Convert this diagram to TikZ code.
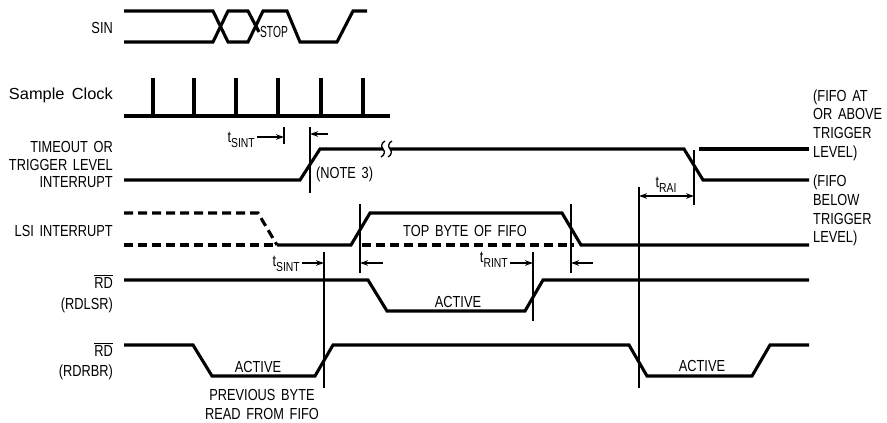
\documentclass[tikz,border=0pt]{standalone}
\usepackage{fontspec}
\setmainfont{Liberation Sans}[FakeStretch=0.8,WordSpace=1.6]
\usepackage{tikz}
\usetikzlibrary{arrows.meta}

\newcommand{\sigfont}{\fontsize{16}{19}\selectfont}
\newcommand{\subfont}{\fontsize{13}{15}\selectfont}
\newcommand{\tsub}[1]{t\raisebox{-5.5pt}{\subfont #1}}
\newcommand{\rdbar}{$\overline{\mbox{RD}}$}

\tikzstyle{wave} = [line width=3.1pt, line join=miter, line cap=butt]
\tikzstyle{dashwave} = [wave, dash pattern=on 9pt off 5pt]
\tikzstyle{guide} = [line width=1.3pt]
\tikzstyle{dim} = [draw, line width=1.3pt, ->, >={Stealth[length=8pt,width=5.5pt]}]
\tikzstyle{dimboth} = [dim, <->]
\tikzstyle{lbl} = [inner sep=0pt, anchor=base east, font=\sigfont]
\tikzstyle{rlbl} = [inner sep=0pt, anchor=base west, font=\sigfont]
\tikzstyle{txt} = [inner sep=0pt, anchor=base, font=\sigfont]

\begin{document}
\begin{tikzpicture}[x=1pt, y=-1pt]
\useasboundingbox (0,0) rectangle (887,423);

% signal names
\node[lbl] (sin) at (113,34) {SIN};
\node[lbl] (clk) at (113,99) {\scalebox{1.28}[1]{Sample Clock}};
\node[lbl] (tmo1) at (113,152) {TIMEOUT OR};
\node[lbl] (tmo2) at (113,170) {TRIGGER LEVEL};
\node[lbl] (tmo3) at (113,187) {INTERRUPT};
\node[lbl] (lsi) at (113,236) {LSI INTERRUPT};
\node[lbl] (rdlsr1) at (113,288) {\rdbar};
\node[lbl] (rdlsr2) at (113,309) {(RDLSR)};
\node[lbl] (rdrbr1) at (113,356) {\rdbar};
\node[lbl] (rdrbr2) at (113,376) {(RDRBR)};

% SIN
\draw[wave] (124,11) -- (213,11) -- (228,42) -- (248,42) -- (263,11) -- (287,11) -- (300,42) -- (337,42) -- (353,11) -- (367,11);
\draw[wave] (124,42) -- (213,42) -- (228,11) -- (248,11) -- (259,32);
\node[txt] (stop) at (274,37) {\scalebox{0.8}[1]{STOP}};

% sample clock
\draw[wave] (124,116) -- (390,116);
\draw[wave] (153,116) -- (153,78) (194,116) -- (194,78) (236,116) -- (236,78)
  (278,116) -- (278,78) (321,116) -- (321,78) (363,116) -- (363,78);

% timeout / trigger level interrupt
\draw[wave] (124,180) -- (300,180) -- (320,149) -- (383,149);
\draw[guide] (385,141) .. controls (381,143) and (381,147) .. (383,149) .. controls (385,151) and (385,155) .. (381,157);
\draw[guide] (392,141) .. controls (388,143) and (388,147) .. (390,149) .. controls (392,151) and (392,155) .. (388,157);
\draw[wave] (390,149) -- (684,149) -- (703,180) -- (809,180);
\draw[wave] (699,149) -- (809,149);
\node[rlbl] (note) at (316,178) {(NOTE 3)};

\node[rlbl] (above1) at (813,101) {(FIFO AT};
\node[rlbl] (above2) at (813,119) {OR ABOVE};
\node[rlbl] (above3) at (813,138) {TRIGGER};
\node[rlbl] (above4) at (813,157) {LEVEL)};
\node[rlbl] (below1) at (813,186) {(FIFO};
\node[rlbl] (below2) at (813,205) {BELOW};
\node[rlbl] (below3) at (813,224) {TRIGGER};
\node[rlbl] (below4) at (813,242) {LEVEL)};

% LSI interrupt
\draw[dashwave] (124,213) -- (258,213) -- (277,245);
\draw[dashwave] (124,245) -- (277,245);
\draw[wave] (277,245) -- (351,245) -- (370,213) -- (562,213) -- (581,245) -- (809,245);
\draw[dashwave] (362,245) -- (574,245);
\node[txt] (topbyte) at (465,236) {TOP BYTE OF FIFO};

% RD (RDLSR)
\draw[wave] (124,280) -- (368,280) -- (387,311) -- (525,311) -- (543,280) -- (809,280);
\node[txt] (act1) at (458,307) {ACTIVE};

% RD (RDRBR)
\draw[wave] (124,345) -- (193,345) -- (212,376) -- (315,376) -- (333,345) -- (629,345) -- (647,376) -- (752,376) -- (770,345) -- (809,345);
\node[txt] (act2) at (258,372) {ACTIVE};
\node[txt] (act3) at (702,371) {ACTIVE};
\node[txt] (prev1) at (262,400) {PREVIOUS BYTE};
\node[txt] (prev2) at (262,419) {READ FROM FIFO};

% timing guides
\coordinate (g1) at (284,127); \coordinate (g1b) at (284,144);
\coordinate (g2) at (310,127); \coordinate (g2b) at (310,193);
\coordinate (g3) at (324,252); \coordinate (g3b) at (324,388);
\coordinate (g4) at (360,204); \coordinate (g4b) at (360,273);
\coordinate (g5) at (533,252); \coordinate (g5b) at (533,321);
\coordinate (g6) at (571,204); \coordinate (g6b) at (571,273);
\coordinate (g7) at (639,187); \coordinate (g7b) at (639,388);
\coordinate (g8) at (694,150); \coordinate (g8b) at (694,205);
\draw[guide] (g1) -- (g1b);
\draw[guide] (g2) -- (g2b);
\draw[guide] (g3) -- (g3b);
\draw[guide] (g4) -- (g4b);
\draw[guide] (g5) -- (g5b);
\draw[guide] (g6) -- (g6b);
\draw[guide] (g7) -- (g7b);
\draw[guide] (g8) -- (g8b);

% timing arrows
\node[txt, anchor=base east] (tsint1) at (255,142) {\tsub{SINT}};
\coordinate (a1) at (257,137);
\draw[dim] (a1) -- (a1 -| g1);
\coordinate (a2) at (328,134);
\draw[dim] (a2) -- (a2 -| g2);
\node[txt, anchor=base east] (tsint2) at (300,266) {\tsub{SINT}};
\coordinate (a3) at (302,263);
\draw[dim] (a3) -- (a3 -| g3);
\coordinate (a4) at (383,263);
\draw[dim] (a4) -- (a4 -| g4);
\node[txt, anchor=base east] (trint) at (508,262) {\tsub{RINT}};
\coordinate (a5) at (510,263);
\draw[dim] (a5) -- (a5 -| g5);
\coordinate (a6) at (593,263);
\draw[dim] (a6) -- (a6 -| g6);
\node[txt] (trai) at (666,187) {\tsub{RAI}};
\coordinate (a7) at (639,196);
\draw[dimboth] (a7) -- (a7 -| g8);

\end{tikzpicture}
\end{document}
